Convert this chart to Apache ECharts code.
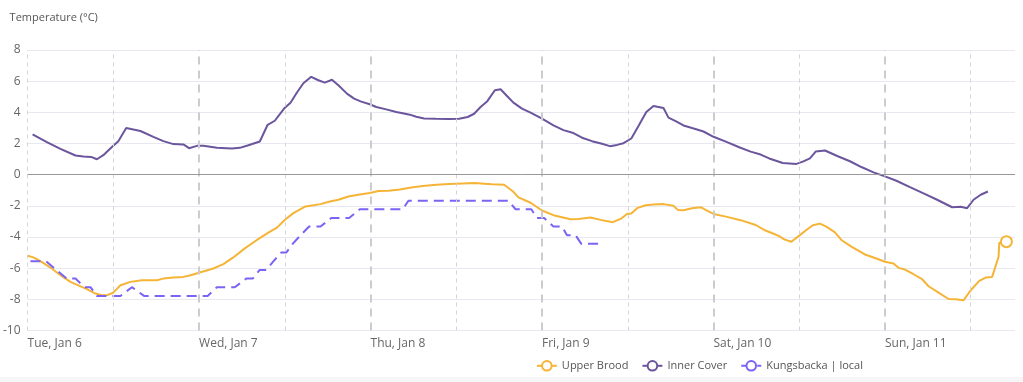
<!DOCTYPE html>
<html>
<head>
<meta charset="utf-8">
<script src="https://cdn.jsdelivr.net/npm/echarts@6/dist/echarts.min.js"></script>
<style>
  html, body { margin: 0; padding: 0; background: #ffffff; }
  #chart { width: 1023px; height: 382px; position: relative; }
  #strip { position: absolute; left: 0; top: 377px; width: 1023px; height: 5px; background: #f6f6f8; }
</style>
</head>
<body>
<div id="chart"></div>
<div id="strip"></div>
<script>
// hours since Tue, Jan 6 00:00
const dayLabels = ['Tue, Jan 6', 'Wed, Jan 7', 'Thu, Jan 8', 'Fri, Jan 9', 'Sat, Jan 10', 'Sun, Jan 11'];
const dayTicks = [24, 48, 72, 96, 120];
const halfDayTicks = [0, 12, 36, 60, 84, 108, 132];
const yTicks = [-10, -8, -6, -4, -2, 0, 2, 4, 6, 8];

const ubHours = [0, 0.8, 1.8, 3.2, 4.6, 6.0, 7.1, 8.3, 9.5, 10.4, 11.2, 12.0, 13.0, 14.4, 16.0, 18.1, 19.0, 20.4, 21.8, 22.7,
  24.1, 26.0, 27.4, 28.8, 30.4, 32.1, 33.7, 34.9, 36.1, 37.2, 38.9, 41.0, 42.3, 43.5, 44.9, 46.5, 47.9, 49.1, 50.5, 52.1,
  53.7, 55.3, 57.2, 59.0, 60.9, 62.7, 63.9, 65.0, 66.7, 67.3, 68.0, 68.7, 70.4, 72.0, 73.6, 76.0, 77.1, 78.8, 80.2, 81.9,
  83.0, 83.9, 84.5, 85.3, 86.5, 87.6, 89.0, 90.4, 91.0, 91.8, 93.0, 94.2, 94.9, 96.0, 97.9, 99.8, 101.9, 103.1, 104.5, 105.2,
  105.9, 106.9, 108.0, 109.0, 109.9, 110.9, 111.8, 113.0, 113.9, 115.3, 117.2, 118.8, 120.0, 121.2, 121.9, 122.8, 124.0, 125.2, 126.1, 127.5,
  128.9, 129.9, 131.0, 132.0, 133.2, 134.1, 135.0, 135.9, 136.0, 137.0];
const ubTemps = [-5.20, -5.31, -5.55, -5.96, -6.45, -6.88, -7.10, -7.35, -7.63, -7.74, -7.72, -7.57, -7.10, -6.88, -6.77, -6.77, -6.67, -6.60, -6.56, -6.47,
  -6.28, -6.02, -5.74, -5.31, -4.73, -4.19, -3.72, -3.40, -2.86, -2.47, -2.04, -1.89, -1.72, -1.61, -1.40, -1.27, -1.18, -1.05, -1.03, -0.95,
  -0.82, -0.73, -0.65, -0.60, -0.56, -0.54, -0.58, -0.62, -0.65, -0.86, -1.10, -1.46, -1.80, -2.30, -2.60, -2.86, -2.84, -2.75, -2.90, -3.05,
  -2.84, -2.52, -2.49, -2.15, -1.96, -1.91, -1.89, -2.00, -2.26, -2.28, -2.15, -2.09, -2.26, -2.52, -2.71, -2.92, -3.23, -3.55, -3.81, -3.94,
  -4.15, -4.30, -3.91, -3.55, -3.25, -3.14, -3.33, -3.70, -4.19, -4.62, -5.12, -5.38, -5.59, -5.70, -5.98, -6.09, -6.39, -6.71, -7.16, -7.57,
  -7.98, -8.00, -8.06, -7.42, -6.82, -6.60, -6.56, -5.27, -4.37, -4.30];

const icHours = [0.7, 2.7, 4.6, 6.7, 7.8, 8.9, 9.7, 10.6, 11.8, 12.7, 13.8, 15.8, 17.6, 19.0, 20.4, 21.8, 22.6, 23.7, 24.6, 26.5,
  28.6, 29.7, 30.9, 32.5, 33.6, 34.6, 35.9, 36.8, 37.7, 38.6, 39.7, 40.7, 41.6, 42.6, 43.5, 44.7, 45.7, 46.7, 47.9, 48.8,
  50.2, 51.6, 52.5, 53.5, 54.4, 55.5, 57.2, 59.0, 60.4, 61.6, 62.5, 63.4, 64.3, 65.4, 66.2, 67.1, 68.0, 69.2, 70.4, 72.0,
  73.6, 75.0, 76.4, 77.6, 79.0, 80.4, 81.5, 82.5, 83.4, 84.5, 85.5, 86.6, 87.6, 89.0, 89.7, 90.7, 91.8, 93.0, 94.6, 96.0,
  97.9, 99.6, 101.2, 102.6, 103.8, 105.7, 107.6, 108.5, 109.5, 110.3, 111.6, 113.4, 115.1, 116.7, 118.4, 120.0, 121.6, 123.5, 125.4, 127.3,
  129.4, 130.6, 131.5, 132.4, 133.4, 134.4];
const icTemps = [2.58, 2.09, 1.66, 1.23, 1.16, 1.14, 0.99, 1.25, 1.78, 2.15, 2.99, 2.80, 2.43, 2.15, 1.96, 1.94, 1.70, 1.85, 1.85, 1.72,
  1.68, 1.72, 1.89, 2.13, 3.20, 3.46, 4.24, 4.62, 5.27, 5.87, 6.28, 6.06, 5.91, 6.09, 5.74, 5.20, 4.88, 4.69, 4.52, 4.34,
  4.19, 4.02, 3.94, 3.85, 3.72, 3.61, 3.59, 3.57, 3.59, 3.70, 3.91, 4.34, 4.69, 5.42, 5.48, 5.05, 4.62, 4.24, 3.98, 3.59,
  3.16, 2.86, 2.67, 2.37, 2.15, 1.98, 1.83, 1.91, 2.02, 2.32, 3.12, 4.02, 4.41, 4.28, 3.66, 3.44, 3.16, 2.99, 2.77, 2.43,
  2.09, 1.76, 1.48, 1.29, 1.04, 0.75, 0.69, 0.84, 1.05, 1.48, 1.55, 1.18, 0.86, 0.49, 0.15, -0.11, -0.39, -0.80, -1.20, -1.61,
  -2.09, -2.06, -2.15, -1.61, -1.29, -1.08];

const kbHours = [0.4, 2.6, 4.0, 5.5, 6.7, 8.0, 8.8, 9.7, 13.0, 14.6, 16.3, 25.2, 26.5, 29.0, 30.6, 31.5, 32.5, 33.4, 34.4, 35.5,
  36.2, 37.1, 38.2, 39.4, 41.0, 42.5, 45.0, 46.5, 52.5, 53.3, 67.3, 68.3, 70.5, 71.3, 72.3, 73.6, 74.8, 75.5, 76.7, 77.5, 80.4];
const kbTemps = [-5.56, -5.56, -6.11, -6.67, -6.67, -7.22, -7.22, -7.78, -7.78, -7.22, -7.78, -7.78, -7.22, -7.22, -6.67, -6.67, -6.11, -6.11, -5.56, -5.00,
  -5.00, -4.44, -3.89, -3.33, -3.33, -2.78, -2.78, -2.22, -2.22, -1.67, -1.67, -2.22, -2.22, -2.78, -2.78, -3.33, -3.33, -3.89, -3.89, -4.44, -4.44];

const zip = (xs, ys) => xs.map((x, i) => [x, ys[i]]);
const ubData = zip(ubHours, ubTemps);
const icData = zip(icHours, icTemps);
const kbData = zip(kbHours, kbTemps);

const C_UB = '#f6b436';
const C_IC = '#6b559c';
const C_KB = '#7b63f4';
const FONT = '"Open Sans", "Noto Sans", sans-serif';

const chart = echarts.init(document.getElementById('chart'), null, { renderer: 'canvas' });
chart.setOption({
  animation: false,
  grid: { left: 27, right: 8, top: 50, bottom: 51.5, containLabel: false },
  legend: {
    right: 155, top: 355,
    itemWidth: 20, itemHeight: 12, itemGap: 13,
    textStyle: { color: '#555', fontSize: 11, fontFamily: FONT },
    data: ['Upper Brood', 'Inner Cover', 'Kungsbacka | local']
  },
  xAxis: {
    type: 'value', min: 0, max: 138.2, interval: 24,
    axisLine: { show: true, lineStyle: { color: '#e2e2ee', width: 1 } },
    axisTick: { show: false },
    splitLine: { show: false },
    axisLabel: {
      show: true, align: 'left', margin: 7, color: '#666', fontSize: 12, fontFamily: FONT,
      showMaxLabel: false,
      formatter: v => (v % 24 === 0 ? (dayLabels[v / 24] || '') : '')
    }
  },
  yAxis: {
    type: 'value', min: -10, max: 8, interval: 2,
    name: 'Temperature (°C)', nameLocation: 'end', nameGap: 32,
    nameTextStyle: { color: '#555', fontSize: 11, fontFamily: FONT, align: 'left', verticalAlign: 'middle', padding: [0, 0, 0, -18] },
    axisLine: { show: false },
    axisTick: { show: false },
    axisLabel: { color: '#666', fontSize: 12, fontFamily: FONT, margin: 7, formatter: v => String(v) },
    splitLine: { show: true, lineStyle: { color: '#e8e8f1', width: 1 } }
  },
  series: [
    {
      name: 'Upper Brood', type: 'line', data: ubData,
      symbol: 'emptyCircle', symbolSize: 10, showSymbol: false,
      lineStyle: { color: C_UB, width: 2 }, itemStyle: { color: C_UB },
      z: 3,
      markPoint: {
        silent: true,
        symbol: 'circle', symbolSize: 11,
        itemStyle: { color: '#fff', borderColor: C_UB, borderWidth: 2 },
        label: { show: false },
        data: [{ coord: ubData[ubData.length - 1] }]
      },
      markLine: {
        silent: true, symbol: 'none', label: { show: false },
        data: [
          ...dayTicks.map(d => ({ xAxis: d, lineStyle: { color: '#cbcbd0', width: 2, type: [8, 6] } })),
          ...halfDayTicks.map(d => ({ xAxis: d, lineStyle: { color: '#d4d4d8', width: 1, type: [4, 4] } })),
          { yAxis: 0, lineStyle: { color: '#999999', width: 1, type: 'solid' } }
        ]
      }
    },
    {
      name: 'Inner Cover', type: 'line', data: icData,
      symbol: 'emptyCircle', symbolSize: 10, showSymbol: false,
      lineStyle: { color: C_IC, width: 2 }, itemStyle: { color: C_IC }, z: 3
    },
    {
      name: 'Kungsbacka | local', type: 'line', data: kbData,
      symbol: 'emptyCircle', symbolSize: 10, showSymbol: false,
      lineStyle: { color: C_KB, width: 2, type: [10, 6] }, itemStyle: { color: C_KB }, z: 3
    }
  ]
});
</script>
</body>
</html>
